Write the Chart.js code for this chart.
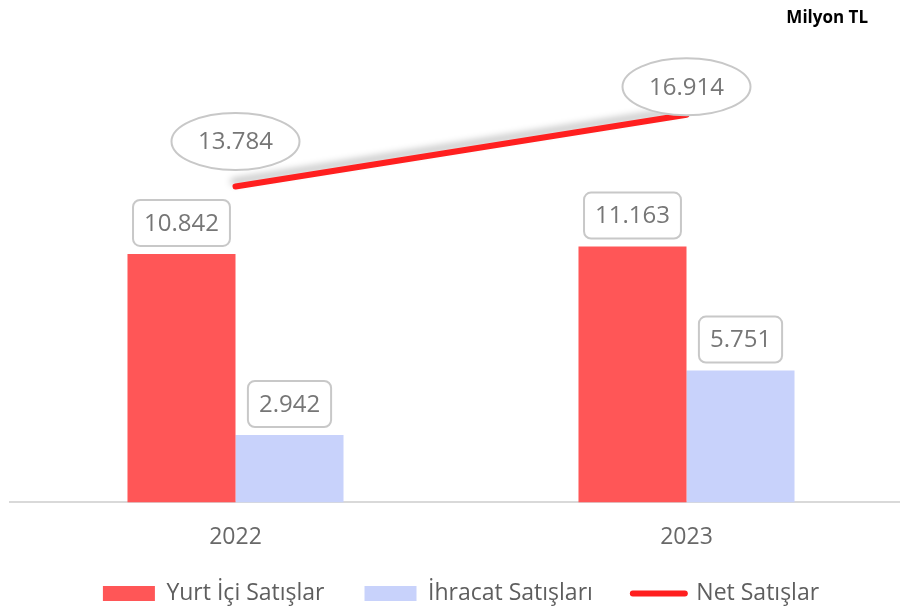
<!DOCTYPE html>
<html>
<head>
<meta charset="utf-8">
<script src="https://cdn.jsdelivr.net/npm/chart.js@4/dist/chart.umd.min.js"></script>
<style>
  html, body { margin: 0; padding: 0; background: #ffffff; overflow: hidden; }
  #wrap { width: 900px; height: 610px; overflow: hidden; position: relative; }
  canvas { display: block; }
</style>
</head>
<body>
<div id="wrap"><canvas id="c" width="930" height="645"></canvas></div>
<script>
const categories = ['2022', '2023'];
const yurtIci = [10842, 11163];
const ihracat = [2942, 5751];
const netSatis = [13784, 16914];
const seriesNames = ['Yurt İçi Satışlar', 'İhracat Satışları', 'Net Satışlar'];
const unitLabel = 'Milyon TL';

const fmt = v => v.toLocaleString('de-DE');

const labelPlugin = {
  id: 'valueLabels',
  afterDatasetsDraw(chart) {
    const ctx = chart.ctx;
    ctx.save();
    ctx.font = '24px "Open Sans"';
    ctx.textAlign = 'center';
    ctx.textBaseline = 'middle';
    chart.data.datasets.forEach((ds, di) => {
      const meta = chart.getDatasetMeta(di);
      meta.data.forEach((el, i) => {
        const txt = fmt(ds.data[i]);
        const tw = ctx.measureText(txt).width;
        if (ds.type === 'line') {
          const offs = [45, 28];
          const cx = el.x, cy = el.y - offs[i];
          ctx.beginPath();
          ctx.ellipse(cx, cy, 64, 28.5, 0, 0, Math.PI * 2);
          ctx.fillStyle = '#ffffff';
          ctx.fill();
          ctx.lineWidth = 2;
          ctx.strokeStyle = '#c8c8c8';
          ctx.stroke();
          ctx.fillStyle = '#767676';
          ctx.fillText(txt, cx, cy + 1);
        } else {
          const w = tw + 22, h = 46;
          const bx = el.x - w / 2, by = el.y - 8 - h;
          ctx.beginPath();
          ctx.roundRect(bx, by, w, h, 7);
          ctx.fillStyle = '#ffffff';
          ctx.fill();
          ctx.lineWidth = 2;
          ctx.strokeStyle = '#c8c8c8';
          ctx.stroke();
          ctx.fillStyle = '#767676';
          ctx.fillText(txt, el.x, by + h / 2 + 1);
        }
      });
    });
    // unit label
    ctx.font = 'bold 17px "Open Sans"';
    ctx.textAlign = 'right';
    ctx.textBaseline = 'alphabetic';
    ctx.fillStyle = '#000000';
    ctx.fillText(unitLabel, 868, 23);
    ctx.restore();
  }
};

const shadowPlugin = {
  id: 'lineShadow',
  afterLayout(chart) {
    if (chart.legend) {
      chart.legend.top -= 30;
      chart.legend.bottom -= 30;
    }
  },
  beforeDatasetDraw(chart, args) {
    const ds = chart.data.datasets[args.index];
    if (ds.type === 'line') {
      const ctx = chart.ctx;
      ctx.save();
      ctx.shadowColor = 'rgba(0,0,0,0.25)';
      ctx.shadowBlur = 7;
      ctx.shadowOffsetX = -2;
      ctx.shadowOffsetY = -5;
    }
  },
  afterDatasetDraw(chart, args) {
    const ds = chart.data.datasets[args.index];
    if (ds.type === 'line') chart.ctx.restore();
  }
};

new Chart(document.getElementById('c'), {
  type: 'bar',
  data: {
    labels: categories,
    datasets: [
      { label: seriesNames[0], data: yurtIci, backgroundColor: '#ff5657', borderWidth: 0,
        categoryPercentage: 0.479, barPercentage: 1.0 },
      { label: seriesNames[1], data: ihracat, backgroundColor: '#c8d2fb', borderWidth: 0,
        categoryPercentage: 0.479, barPercentage: 1.0 },
      { label: seriesNames[2], data: netSatis, type: 'line', borderColor: '#ff1f1f',
        backgroundColor: '#ff1f1f', borderWidth: 6, borderCapStyle: 'round',
        pointRadius: 0, pointHoverRadius: 0, fill: false, order: -1 }
    ]
  },
  options: {
    responsive: false,
    animation: false,
    layout: { padding: { top: 44, left: 10, right: 18, bottom: 0 } },
    scales: {
      x: {
        grid: { display: false, drawTicks: false },
        border: { display: true, color: '#d9d9d9', width: 2 },
        ticks: { color: '#686868', font: { family: 'Open Sans', size: 23 }, padding: 21 }
      },
      y: { display: false, min: 0, max: 20000 }
    },
    plugins: {
      tooltip: { enabled: false },
      legend: {
        position: 'bottom',
        labels: {
          color: '#5e5e5e',
          font: { family: 'Open Sans', size: 23 },
          padding: 40,
          usePointStyle: true,
          pointStyleWidth: 52,
          boxHeight: 15,
          generateLabels(chart) {
            const items = Chart.defaults.plugins.legend.labels.generateLabels(chart);
            items.sort((a, b) => a.datasetIndex - b.datasetIndex);
            items.forEach(it => {
              const ds = chart.data.datasets[it.datasetIndex];
              if (ds.type === 'line') {
                it.pointStyle = 'line';
                it.strokeStyle = ds.borderColor;
                it.fillStyle = ds.borderColor;
                it.lineWidth = 6;
                it.lineCap = 'round';
              } else {
                it.pointStyle = 'rect';
                it.fillStyle = ds.backgroundColor;
                it.lineWidth = 0;
              }
            });
            return items;
          }
        }
      }
    }
  },
  plugins: [shadowPlugin, labelPlugin]
});
</script>
</body>
</html>
